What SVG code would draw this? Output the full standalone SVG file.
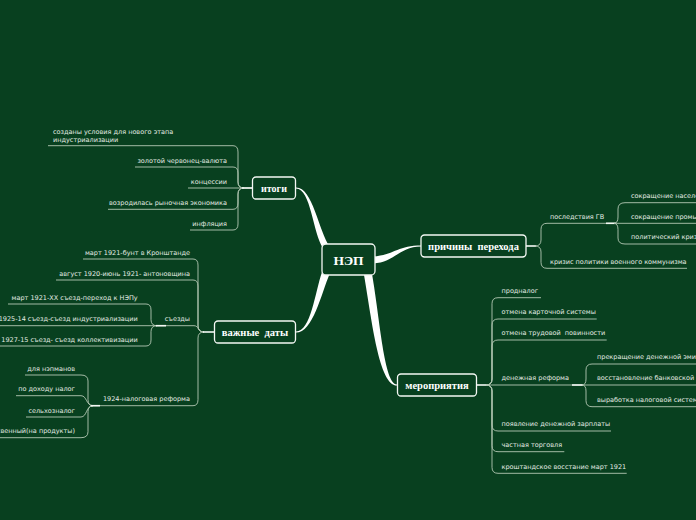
<svg xmlns="http://www.w3.org/2000/svg" width="696" height="520" viewBox="0 0 696 520">
<style>
.bg{fill:#08401f}
.ln{fill:none;stroke:#b4c8b4;stroke-width:0.9}
.hl{fill:none;stroke:#f4f8f4;stroke-width:1.6}
.th{fill:#ffffff;stroke:none}
.box{fill:#08401f;stroke:#f4f8f4;stroke-width:1.3}
.t{font-family:"DejaVu Sans",Verdana,sans-serif;font-size:6.5px;fill:#e4ece4;white-space:pre}
.e{text-anchor:end}
.n{font-family:"Liberation Serif","Times New Roman",serif;font-weight:bold;font-size:10.5px;fill:#ffffff;text-anchor:middle;white-space:pre}
</style>
<rect class="bg" x="0" y="0" width="696" height="520"/>
<g id="connectors">
<path class="th" d="M296,187.4 C313,187.4 318,230 330,247 L323,248 C313,234 311,188.6 296,188.6 Z"/>
<path class="th" d="M296,331.4 C311,331.4 315,292 322,272 L330,273 C321,294 313,332.6 296,332.6 Z"/>
<path class="th" d="M373,256.5 C392,255.5 398,245.4 421,245.4 L421,246.6 C400,246.6 394,262.5 373,263.5 Z"/>
<path class="th" d="M364,275 C372,321 379,385.6 397,385.6 L397,384.4 C384,384.4 380,319 372,274 Z"/>
<path class="ln" d="M48,145.7 H233 Q238,145.7 238,152 L238,182 Q238,188 244,188"/>
<path class="ln" d="M135,167 H233 Q238,167 238,173 L238,182 Q238,188 244,188"/>
<path class="ln" d="M188,188 H252.5"/>
<path class="ln" d="M108,209.3 H233 Q238,209.3 238,203 L238,194 Q238,188 244,188"/>
<path class="ln" d="M190,230 H233 Q238,230 238,224 L238,194 Q238,188 244,188"/>
<path class="hl" d="M242,188 H252.5"/>
<path class="ln" d="M83,259 H193 Q198,259 198,265 L198,326 Q198,332 204,332"/>
<path class="ln" d="M56,280 H193 Q198,280 198,286 L198,326 Q198,332 204,332"/>
<path class="ln" d="M0,325.7 H194 C199,325.7 198,332 204,332"/>
<path class="ln" d="M90,405.7 H193 Q198,405.7 198,399.7 L198,338 Q198,332 204,332"/>
<path class="hl" d="M203,332 H214.5"/>
<path class="ln" d="M8,304 H146 Q151,304 151,310 L151,319.7 Q151,325.7 157,325.7"/>
<path class="ln" d="M0,346 H146 Q151,346 151,340 L151,331.7 Q151,325.7 157,325.7"/>
<path class="hl" d="M156,325.7 H166"/>
<path class="ln" d="M25,375 H81 Q88,375 88,381 L88,399.7 Q88,405.7 93,405.7"/>
<path class="ln" d="M16,395.7 H81 C87,395.7 86,405.7 93,405.7"/>
<path class="ln" d="M26,417 H81 C87,417 86,405.7 93,405.7"/>
<path class="ln" d="M0,437.7 H81 Q88,437.7 88,431.7 L88,411.7 Q88,405.7 93,405.7"/>
<path class="hl" d="M91,405.7 H100"/>
<path class="hl" d="M526,246 H536"/>
<path class="ln" d="M535,246 Q541,246 541,240 L541,229.3 Q541,223.3 547,223.3 H614"/>
<path class="ln" d="M535,246 Q541,246 541,252 L541,262.3 Q541,268.3 547,268.3 H687"/>
<path class="hl" d="M606,223.3 H616"/>
<path class="ln" d="M614,223.3 H696"/>
<path class="ln" d="M614,223.3 Q618,223.3 618,217 L618,209 Q618,202.7 625,202.7 H696"/>
<path class="ln" d="M614,223.3 Q618,223.3 618,229.6 L618,238 Q618,244 625,244 H696"/>
<path class="hl" d="M476.5,385 H487"/>
<path class="ln" d="M486,385 Q492,385 492,379 L492,303.7 Q492,297.7 498,297.7 H541"/>
<path class="ln" d="M486,385 Q492,385 492,379 L492,325 Q492,319 498,319 H596.7"/>
<path class="ln" d="M486,385 Q492,385 492,379 L492,346 Q492,340 498,340 H606.7"/>
<path class="ln" d="M486,385 H583"/>
<path class="ln" d="M486,385 Q492,385 492,391 L492,425 Q492,431 498,431 H611"/>
<path class="ln" d="M486,385 Q492,385 492,391 L492,445.7 Q492,451.7 498,451.7 H564.3"/>
<path class="ln" d="M486,385 Q492,385 492,391 L492,467.3 Q492,473.3 498,473.3 H626.7"/>
<path class="hl" d="M572,385 H583"/>
<path class="ln" d="M582,385 H696"/>
<path class="ln" d="M582,385 Q586,385 586,379 L586,370 Q586,364 592,364 H696"/>
<path class="ln" d="M582,385 Q586,385 586,391 L586,400.7 Q586,406.7 592,406.7 H696"/>
</g>
<g id="node-nep">
<rect class="box" x="322" y="244" width="53" height="31" rx="4"/>
<text class="n" x="348.5" y="264.5" style="font-size:13.5px">НЭП</text>
</g>
<g id="node-itogi">
<rect class="box" x="252.5" y="177" width="43" height="22" rx="3.5"/>
<text class="n" x="274" y="191.5" style="font-size:10px">итоги</text>
</g>
<g id="node-vazhnye-daty">
<rect class="box" x="214.5" y="321" width="81" height="22" rx="3.5"/>
<text class="n" x="255" y="335.5">важные  даты</text>
</g>
<g id="node-prichiny">
<rect class="box" x="421" y="235" width="105" height="22" rx="3.5"/>
<text class="n" x="473.5" y="249.5">причины  перехода</text>
</g>
<g id="node-meropriyatiya">
<rect class="box" x="397.5" y="374" width="79" height="22" rx="3.5"/>
<text class="n" x="437" y="388.5">мероприятия</text>
</g>
<g id="itogi-children">
<text class="t" x="53" y="134">созданы условия для нового этапа</text>
<text class="t" x="53" y="141.5">индустриализации</text>
<text class="t e" x="227" y="163">золотой червонец-валюта</text>
<text class="t e" x="227" y="184">концессии</text>
<text class="t e" x="227" y="205">возродилась рыночная экономика</text>
<text class="t e" x="227" y="226">инфляция</text>
</g>
<g id="daty-children">
<text class="t e" x="190" y="254.5">март 1921-бунт в Кронштанде</text>
<text class="t e" x="190" y="275.5">август 1920-июнь 1921- антоновщина</text>
<text class="t e" x="190" y="321">съезды</text>
<text class="t e" x="190" y="401">1924-налоговая реформа</text>
</g>
<g id="sezdy-children">
<text class="t e" x="137.7" y="299.5">март 1921-XX съезд-переход к НЭПу</text>
<text class="t e" x="137.7" y="321">1925-14 съезд-съезд индустриализации</text>
<text class="t e" x="137.7" y="341.5">ь 1927-15 съезд- съезд коллективизации</text>
</g>
<g id="nalog-children">
<text class="t e" x="75" y="370.5">для нэпманов</text>
<text class="t e" x="75" y="391">по доходу налог</text>
<text class="t e" x="75" y="412.5">сельхозналог</text>
<text class="t e" x="75" y="433">свенный(на продукты)</text>
</g>
<g id="prichiny-children">
<text class="t" x="550" y="218.5">последствия ГВ</text>
<text class="t" x="550" y="263.5">кризис политики военного коммунизма</text>
</g>
<g id="posledstviya-children">
<text class="t" x="631" y="198">сокращение населения</text>
<text class="t" x="631" y="218.5">сокращение промышленности</text>
<text class="t" x="631" y="239.3">политический кризис</text>
</g>
<g id="meropriyatiya-children">
<text class="t" x="501.5" y="293">продналог</text>
<text class="t" x="501.5" y="314.3">отмена карточной системы</text>
<text class="t" x="501.5" y="335.3">отмена трудовой  повинности</text>
<text class="t" x="501.5" y="380.3">денежная реформа</text>
<text class="t" x="501.5" y="426.3">появление денежной зарплаты</text>
<text class="t" x="501.5" y="447">частная торговля</text>
<text class="t" x="501.5" y="468.5">кроштандское восстание март 1921</text>
</g>
<g id="reforma-children">
<text class="t" x="597" y="359.3">прекращение денежной эмиссии</text>
<text class="t" x="597" y="380.3">восстановление банковской системы</text>
<text class="t" x="597" y="402">выработка налоговой системы</text>
</g>
</svg>
